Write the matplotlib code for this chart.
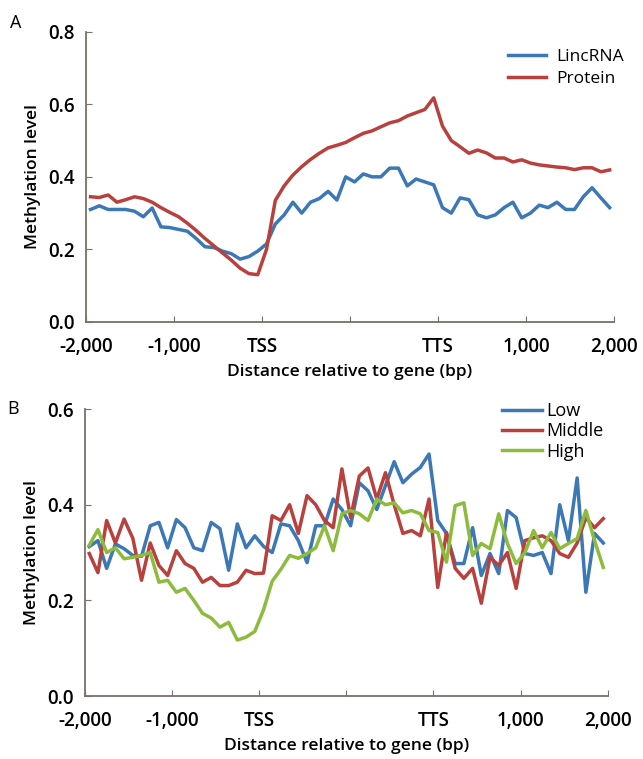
import numpy as np
import matplotlib

matplotlib.use("Agg")
import matplotlib.pyplot as plt

plt.rcParams["font.family"] = ["Open Sans", "DejaVu Sans"]

# 60 bins: 20 upstream, 20 gene body (scaled), 20 downstream
x = 0.05 + 0.1 * np.arange(60)
tick_pos = [0, 1, 2, 3, 4, 5, 6]
tick_labels = ["-2,000", "-1,000", "TSS", "", "TTS", "1,000", "2,000"]

# Panel A
lincrna = [0.31, 0.32, 0.31, 0.31, 0.31, 0.305, 0.29, 0.314, 0.262, 0.26,
           0.255, 0.25, 0.23, 0.207, 0.205, 0.195, 0.188, 0.173, 0.18, 0.195,
           0.215, 0.27, 0.295, 0.33, 0.30, 0.33, 0.34, 0.36, 0.336, 0.40,
           0.386, 0.408, 0.40, 0.40, 0.424, 0.424, 0.375, 0.394, 0.386, 0.378,
           0.315, 0.30, 0.342, 0.337, 0.295, 0.287, 0.295, 0.315, 0.33, 0.287,
           0.30, 0.322, 0.315, 0.33, 0.31, 0.31, 0.345, 0.37, 0.342, 0.315]
protein = [0.345, 0.343, 0.35, 0.33, 0.337, 0.345, 0.34, 0.33, 0.315, 0.302,
           0.29, 0.272, 0.252, 0.23, 0.21, 0.19, 0.17, 0.148, 0.133, 0.13,
           0.20, 0.335, 0.375, 0.405, 0.428, 0.448, 0.465, 0.48, 0.487, 0.495,
           0.508, 0.52, 0.527, 0.538, 0.549, 0.555, 0.568, 0.577, 0.586, 0.618,
           0.54, 0.50, 0.483, 0.465, 0.474, 0.466, 0.452, 0.452, 0.441, 0.447,
           0.438, 0.433, 0.43, 0.427, 0.425, 0.42, 0.425, 0.425, 0.414, 0.419]

# Panel B
low = [0.3125, 0.325, 0.267, 0.318, 0.308, 0.294, 0.292, 0.356, 0.363, 0.31,
       0.369, 0.352, 0.31, 0.304, 0.363, 0.35, 0.263, 0.36, 0.31, 0.335,
       0.313, 0.30, 0.36, 0.356, 0.325, 0.279, 0.356, 0.356, 0.412, 0.39,
       0.356, 0.446, 0.429, 0.39, 0.44, 0.49, 0.446, 0.464, 0.478, 0.506,
       0.367, 0.34, 0.277, 0.277, 0.352, 0.252, 0.298, 0.256, 0.388, 0.373,
       0.298, 0.294, 0.30, 0.256, 0.40, 0.325, 0.456, 0.217, 0.34, 0.32]
middle = [0.298, 0.258, 0.367, 0.32, 0.37, 0.33, 0.242, 0.32, 0.273, 0.252,
          0.304, 0.277, 0.267, 0.238, 0.248, 0.231, 0.231, 0.238, 0.263, 0.256,
          0.257, 0.377, 0.367, 0.40, 0.34, 0.419, 0.40, 0.367, 0.352, 0.475,
          0.373, 0.46, 0.477, 0.412, 0.467, 0.40, 0.34, 0.346, 0.335, 0.412,
          0.227, 0.342, 0.267, 0.246, 0.267, 0.194, 0.29, 0.273, 0.30, 0.225,
          0.325, 0.331, 0.335, 0.325, 0.298, 0.29, 0.32, 0.373, 0.352, 0.371]
high = [0.315, 0.348, 0.30, 0.31, 0.287, 0.29, 0.294, 0.30, 0.238, 0.242,
        0.217, 0.225, 0.20, 0.173, 0.163, 0.144, 0.154, 0.117, 0.123, 0.135,
        0.18, 0.24, 0.265, 0.294, 0.288, 0.298, 0.31, 0.356, 0.304, 0.381,
        0.388, 0.381, 0.367, 0.412, 0.40, 0.404, 0.383, 0.388, 0.381, 0.346,
        0.342, 0.28, 0.398, 0.404, 0.294, 0.319, 0.308, 0.381, 0.319, 0.277,
        0.30, 0.346, 0.31, 0.342, 0.308, 0.319, 0.329, 0.388, 0.325, 0.269]

BLUE = "#3b78b5"
RED = "#b8413e"
GREEN = "#8dbb3e"
AXIS = "#7a6f68"

fig = plt.figure(figsize=(6.43, 7.59), dpi=100)
ax_a = fig.add_axes([0.134, 0.576, 0.821, 0.382])
ax_b = fig.add_axes([0.132, 0.083, 0.813, 0.378])


def style(ax, ymax):
    for side in ("top", "right"):
        ax.spines[side].set_visible(False)
    for side in ("left", "bottom"):
        ax.spines[side].set_color(AXIS)
        ax.spines[side].set_linewidth(1.3)
    ax.set_xlim(0, 6)
    ax.set_ylim(0, ymax)
    ax.set_xticks(tick_pos)
    ax.set_xticklabels(tick_labels)
    ax.set_yticks(np.arange(0, ymax + 0.01, 0.2))
    ax.yaxis.set_major_formatter(matplotlib.ticker.FormatStrFormatter("%.1f"))
    ax.tick_params(direction="in", length=4, color=AXIS, labelsize=13.5)
    ax.tick_params(axis="x", pad=11)
    ax.tick_params(axis="y", pad=8)
    for lab in ax.get_xticklabels() + ax.get_yticklabels():
        lab.set_fontweight("semibold")
    ax.set_xlabel("Distance relative to gene (bp)", fontsize=12.5, fontweight="semibold",
                  labelpad=5)
    ax.set_ylabel("Methylation level", fontsize=12.5, fontweight="semibold", labelpad=5)


ax_a.plot(x, lincrna, color=BLUE, lw=2.5, label="LincRNA")
ax_a.plot(x, protein, color=RED, lw=2.5, label="Protein")
style(ax_a, 0.8)
ax_a.legend(loc="upper left", bbox_to_anchor=(0.790, 0.935), bbox_transform=fig.transFigure,
            frameon=False, fontsize=12.5, borderpad=0, borderaxespad=0,
            handlelength=2.2, handletextpad=0.6, labelspacing=0.3)

ax_b.plot(x, low, color=BLUE, lw=2.5, label="Low")
ax_b.plot(x, middle, color=RED, lw=2.5, label="Middle")
ax_b.plot(x, high, color=GREEN, lw=2.5, label="High")
style(ax_b, 0.6)
ax_b.legend(loc="upper left", bbox_to_anchor=(0.781, 0.470), bbox_transform=fig.transFigure,
            frameon=False, fontsize=13, borderpad=0, borderaxespad=0,
            handlelength=2.2, handletextpad=0.25, labelspacing=0.12)

fig.text(0.015, 0.963, "A", fontsize=13)
fig.text(0.012, 0.455, "B", fontsize=13)

fig.savefig("out.png", dpi=100)
plt.close(fig)
